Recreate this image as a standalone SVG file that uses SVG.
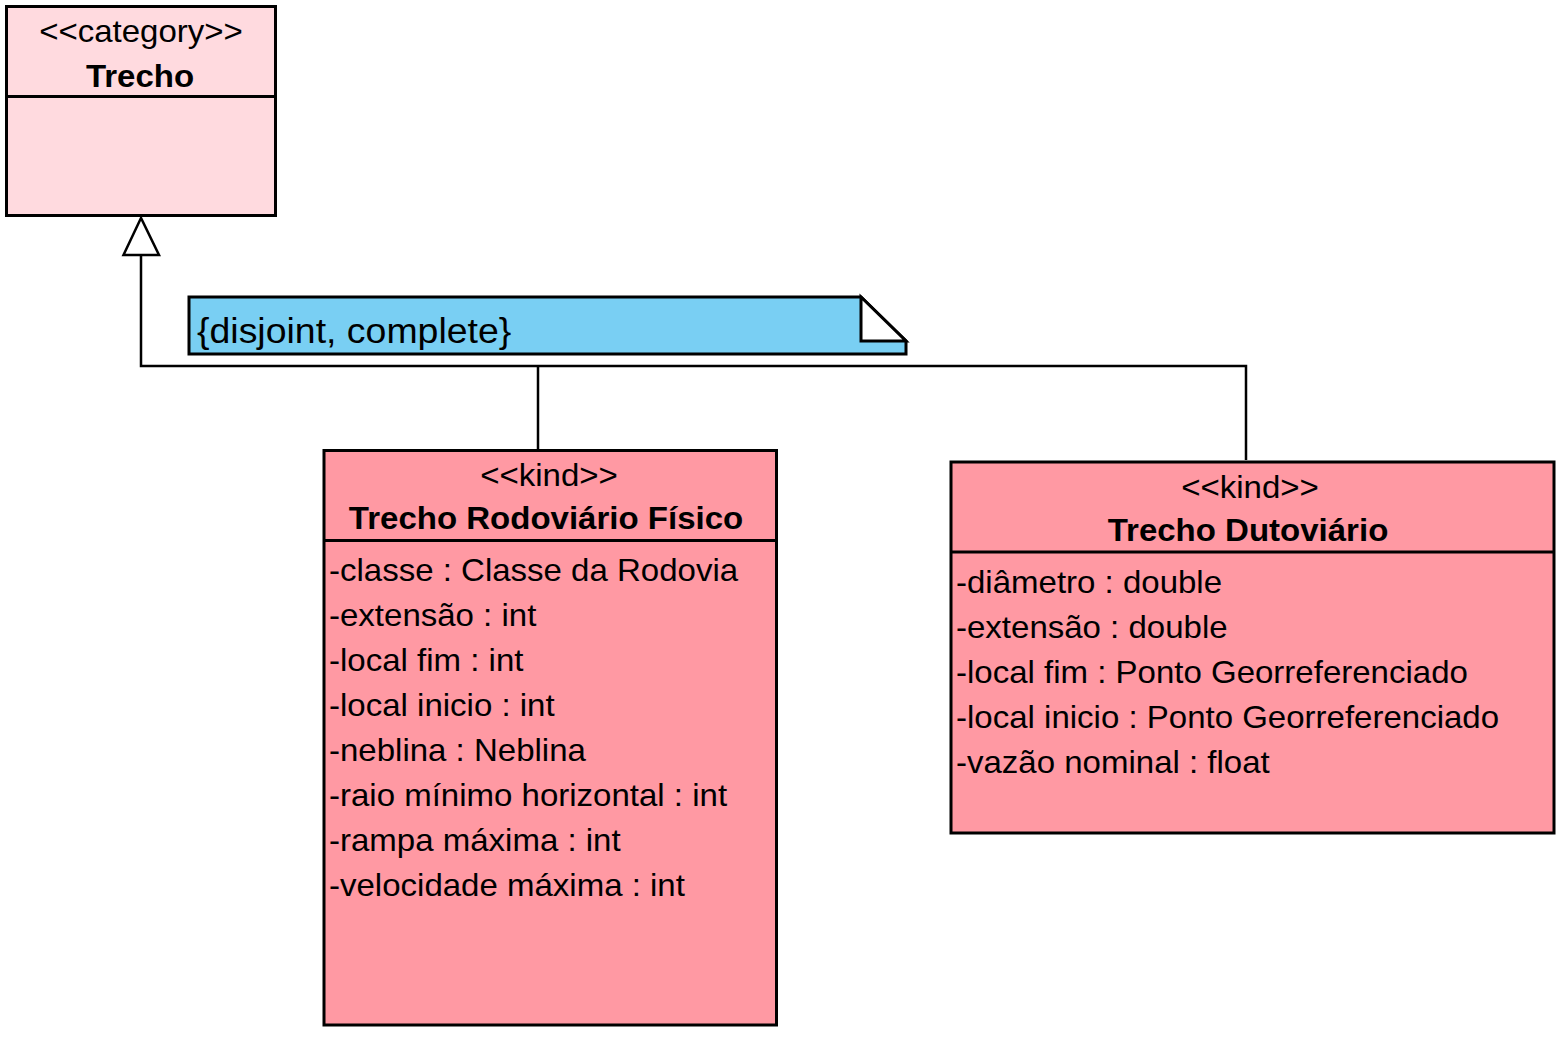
<svg xmlns="http://www.w3.org/2000/svg" width="1566" height="1038" viewBox="0 0 1566 1038">
<style>
  .box { stroke: #000; stroke-width: 3; }
  .cat { fill: #FFDADF; }
  .kind { fill: #FF99A3; }
  .div { stroke: #000; stroke-width: 3; fill: none; }
  .t { font-family: "Liberation Sans", Arial, sans-serif; font-size: 31px; fill: #000; }
  .b { font-weight: bold; }
  .m { text-anchor: middle; }
  .note { fill: #79CFF3; stroke: #000; stroke-width: 3; }
  .fold { fill: #fff; stroke: #000; stroke-width: 3; stroke-linejoin: miter; }
  .nt { font-family: "Liberation Sans", Arial, sans-serif; font-size: 35px; fill: #000; }
  .ln { stroke: #000; stroke-width: 2.5; fill: none; }
  .tri { fill: #fff; stroke: #000; stroke-width: 2.5; }
</style>
<rect width="1566" height="1038" fill="#fff"/>

<g id="connectors">
  <polyline class="ln" points="141,255 141,366 1246,366 1246,460"/>
  <line class="ln" x1="538" y1="366" x2="538" y2="449"/>
  <polygon class="tri" points="141,218 123.5,255 159,255"/>
</g>

<g id="trecho">
  <rect class="box cat" x="6.5" y="6.5" width="269" height="209"/>
  <line class="div" x1="6.5" y1="96.5" x2="275.5" y2="96.5"/>
  <text class="t m" transform="translate(141 42) scale(1.065 1)">&lt;&lt;category&gt;&gt;</text>
  <text class="t m b" transform="translate(140 87) scale(1.065 1)">Trecho</text>
</g>

<g id="note">
  <polygon class="note" points="189,297 861,297 906,341 906,354 189,354"/>
  <polygon class="fold" points="861,297 906,341 861,341"/>
  <text class="nt" transform="translate(197 343) scale(1.07 1)">{disjoint, complete}</text>
</g>

<g id="rodoviario">
  <rect class="box kind" x="324" y="450.5" width="452.5" height="574.5"/>
  <line class="div" x1="324" y1="540.5" x2="776.5" y2="540.5"/>
  <text class="t m" transform="translate(549 486) scale(1.065 1)">&lt;&lt;kind&gt;&gt;</text>
  <text class="t m b" transform="translate(546 529) scale(1.065 1)">Trecho Rodoviário Físico</text>
  <text class="t" transform="translate(329 581) scale(1.065 1)">-classe : Classe da Rodovia</text>
  <text class="t" transform="translate(329 626) scale(1.065 1)">-extensão : int</text>
  <text class="t" transform="translate(329 671) scale(1.065 1)">-local fim : int</text>
  <text class="t" transform="translate(329 716) scale(1.065 1)">-local inicio : int</text>
  <text class="t" transform="translate(329 761) scale(1.065 1)">-neblina : Neblina</text>
  <text class="t" transform="translate(329 806) scale(1.065 1)">-raio mínimo horizontal : int</text>
  <text class="t" transform="translate(329 851) scale(1.065 1)">-rampa máxima : int</text>
  <text class="t" transform="translate(329 896) scale(1.065 1)">-velocidade máxima : int</text>
</g>

<g id="dutoviario">
  <rect class="box kind" x="951" y="462" width="603" height="371"/>
  <line class="div" x1="951" y1="552" x2="1554" y2="552"/>
  <text class="t m" transform="translate(1250 498) scale(1.065 1)">&lt;&lt;kind&gt;&gt;</text>
  <text class="t m b" transform="translate(1248 541) scale(1.065 1)">Trecho Dutoviário</text>
  <text class="t" transform="translate(956 593) scale(1.065 1)">-diâmetro : double</text>
  <text class="t" transform="translate(956 638) scale(1.065 1)">-extensão : double</text>
  <text class="t" transform="translate(956 683) scale(1.065 1)">-local fim : Ponto Georreferenciado</text>
  <text class="t" transform="translate(956 728) scale(1.065 1)">-local inicio : Ponto Georreferenciado</text>
  <text class="t" transform="translate(956 773) scale(1.065 1)">-vazão nominal : float</text>
</g>
</svg>
